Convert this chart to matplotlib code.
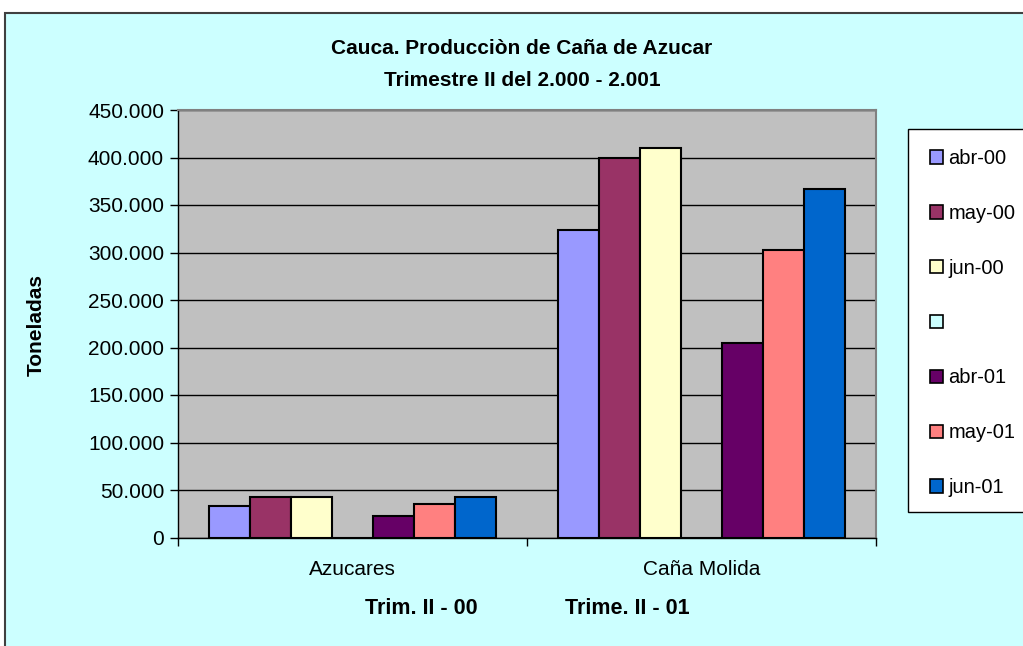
import numpy as np
import matplotlib
matplotlib.use("Agg")
import matplotlib.pyplot as plt
from matplotlib.patches import Rectangle, Patch
from matplotlib.ticker import FuncFormatter, FixedLocator

plt.rcParams['font.family'] = ['Liberation Sans', 'DejaVu Sans']

# datos
categorias = ["Azucares", "Caña Molida"]
series = ["abr-00", "may-00", "jun-00", "", "abr-01", "may-01", "jun-01"]
abr_00 = [33200, 324000]
may_00 = [42900, 399500]
jun_00 = [42900, 410000]
vacio = [0, 0]
abr_01 = [22900, 204700]
may_01 = [35600, 303000]
jun_01 = [42900, 366500]
valores = [abr_00, may_00, jun_00, vacio, abr_01, may_01, jun_01]
colores = ["#9999FF", "#993366", "#FFFFCC", "#CCFFFF", "#660066", "#FF8080", "#0066CC"]

W, H = 1023, 646
fig = plt.figure(figsize=(W / 100, H / 100), dpi=100)
fig.patch.set_facecolor("white")

# fondo del grafico (chart area)
fig.patches.append(Rectangle((5 / W, -0.05), 1.1, 1 - 13 / H + 0.05,
                             transform=fig.transFigure, facecolor="#CCFFFF",
                             edgecolor="#404040", linewidth=1.5, zorder=-10))

ax = fig.add_axes([178 / W, 1 - 537.5 / H, (876 - 178) / W, (537.5 - 110) / H])
ax.set_facecolor("#C0C0C0")

x = np.arange(len(categorias))
w = 1 / 8.5
for i, (vals, c) in enumerate(zip(valores, colores)):
    ax.bar(x + (i - 3) * w, vals, width=w, color=c, edgecolor="black",
           linewidth=1.5, zorder=3)

ax.set_xlim(-0.5, 1.5)
ax.set_ylim(0, 450000)
ax.set_yticks(np.arange(0, 450001, 50000))
ax.yaxis.set_major_formatter(FuncFormatter(lambda v, p: f"{v:,.0f}".replace(",", ".")))
ax.grid(axis="y", color="black", linewidth=1, zorder=1)
ax.set_xticks(x)
ax.set_xticklabels(categorias, fontsize=15)
ax.xaxis.set_minor_locator(FixedLocator([-0.5, 0.5, 1.5]))
ax.tick_params(axis="x", which="major", length=0, pad=16)
ax.tick_params(axis="x", which="minor", length=6, width=1, direction="out")
ax.tick_params(axis="y", length=6, width=1, labelsize=15, pad=4)

for s in ["top", "right"]:
    ax.spines[s].set_color("#808080")
    ax.spines[s].set_linewidth(1.5)
for s in ["left", "bottom"]:
    ax.spines[s].set_color("black")
    ax.spines[s].set_linewidth(1)

# titulos
fig.text(522 / W, 1 - 48 / H, "Cauca. Producciòn de Caña de Azucar",
         ha="center", va="center", fontsize=15, fontweight="bold")
fig.text(522 / W, 1 - 80 / H, "Trimestre II del 2.000 - 2.001",
         ha="center", va="center", fontsize=15, fontweight="bold")
fig.text(36 / W, 1 - 325 / H, "Toneladas", rotation=90,
         ha="center", va="center", fontsize=15, fontweight="bold")
fig.text(421 / W, 1 - 608 / H, "Trim. II - 00",
         ha="center", va="center", fontsize=15.5, fontweight="bold")
fig.text(627 / W, 1 - 608 / H, "Trime. II - 01",
         ha="center", va="center", fontsize=15.5, fontweight="bold")

# leyenda
fig.patches.append(Rectangle((908 / W, 1 - 512 / H), 0.2, (512 - 129) / H,
                             transform=fig.transFigure, facecolor="white",
                             edgecolor="black", linewidth=1, zorder=1))
handles = [Patch(facecolor=c, edgecolor="black", linewidth=1.2) for c in colores]
leg = fig.legend(handles, series, loc="upper left",
                 bbox_to_anchor=(920 / W, 1 - 139 / H), frameon=False,
                 fontsize=14.5, handlelength=0.65, handleheight=0.65,
                 handletextpad=0.25, labelspacing=1.78, borderpad=0)

fig.savefig("out.png", dpi=100, facecolor=fig.get_facecolor())
